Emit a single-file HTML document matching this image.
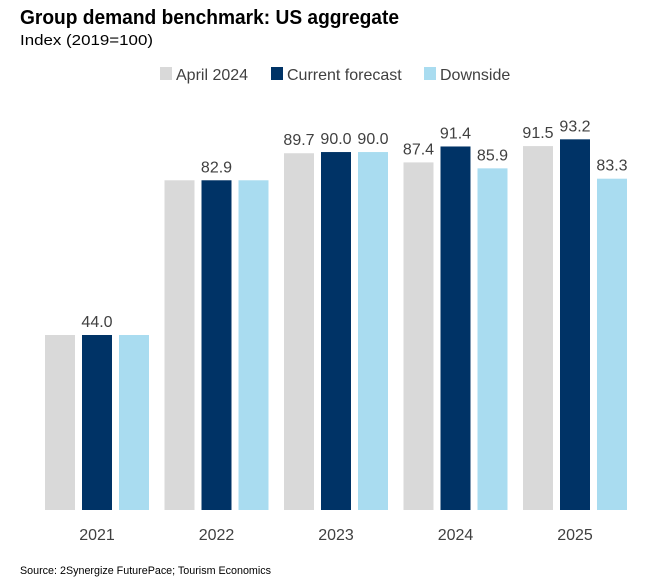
<!DOCTYPE html>
<html><head><meta charset="utf-8"><style>
body{margin:0;background:#fff;font-family:"Liberation Sans",sans-serif;}
svg{display:block}
</style></head><body>
<svg id="c" width="654" height="579">
<text x="20" y="24" font-size="20" font-weight="bold" fill="#000" textLength="379" lengthAdjust="spacingAndGlyphs">Group demand benchmark: US aggregate</text>
<text x="20" y="45" font-size="15" fill="#000" textLength="133" lengthAdjust="spacingAndGlyphs">Index (2019=100)</text>
<g>
<rect x="160" y="67" width="12" height="13" fill="#d9d9d9"/>
<text x="176" y="80" font-size="16" fill="#404040">April 2024</text>
<rect x="271" y="67" width="12" height="13" fill="#003366"/>
<text x="287" y="80" font-size="16" fill="#404040">Current forecast</text>
<rect x="424" y="67" width="12" height="13" fill="#a9dcf0"/>
<text x="440" y="80" font-size="16" fill="#404040">Downside</text>
</g>
<g id="bars"></g>
<text x="20" y="574" font-size="11" fill="#000" textLength="251" lengthAdjust="spacingAndGlyphs">Source: 2Synergize FuturePace; Tourism Economics</text>
</svg>
<script>
const categories=["2021","2022","2023","2024","2025"];
const april=[44.0,82.9,89.7,87.4,91.5];
const current=[44.0,82.9,90.0,91.4,93.2];
const downside=[44.0,82.9,90.0,85.9,83.3];
const showLabels=[[false,true,false],[false,true,false],[true,true,true],[true,true,true],[true,true,true]];
const series=[april,current,downside];
const colors=["#d9d9d9","#003366","#a9dcf0"];
const names=["april","current","downside"];
const base=510,scale=175/44;
const y=v=>base-v*scale;
const gx=i=>97+i*119.5;
const g=document.getElementById('bars');
const NS="http://www.w3.org/2000/svg";
categories.forEach((c,i)=>{
  series.forEach((s,j)=>{
    const x=gx(i)+(j-1)*37-15;
    const r=document.createElementNS(NS,'rect');
    r.setAttribute('x',x);r.setAttribute('y',y(s[i]));r.setAttribute('width',30);r.setAttribute('height',base-y(s[i]));r.setAttribute('fill',colors[j]);
    
    
    g.appendChild(r);
    if(showLabels[i][j]){
      const t=document.createElementNS(NS,'text');
      t.setAttribute('x',x+15);t.setAttribute('y',y(s[i])-8);t.setAttribute('text-anchor','middle');t.setAttribute('font-size','16');t.setAttribute('fill','#404040');
      t.textContent=s[i].toFixed(1);
      
      
      g.appendChild(t);
    }
  });
  const t=document.createElementNS(NS,'text');
  t.setAttribute('x',gx(i));t.setAttribute('y',540);t.setAttribute('text-anchor','middle');t.setAttribute('font-size','16');t.setAttribute('fill','#404040');
  t.textContent=c;
  
  
  g.appendChild(t);
});
</script>
</body></html>
